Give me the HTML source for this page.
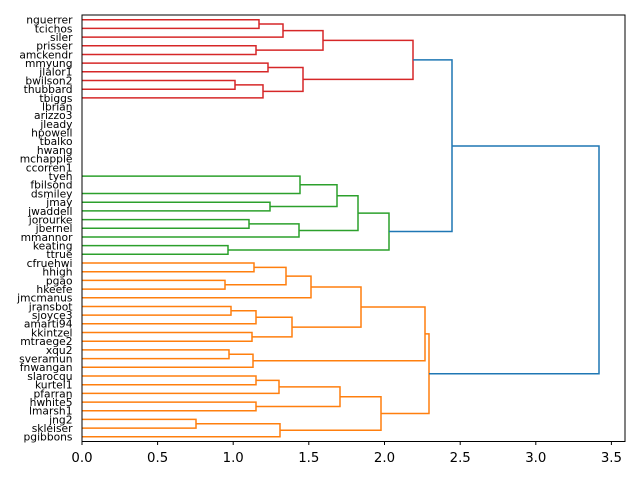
<!DOCTYPE html>
<html><head><meta charset="utf-8"><style>
html,body{margin:0;padding:0;background:#fff;}
svg{display:block;}
text{font-family:"DejaVu Sans","Liberation Sans",sans-serif;fill:#000;}
</style></head><body>
<svg width="640" height="480" viewBox="0 0 640 480" xmlns="http://www.w3.org/2000/svg">
<g fill="none" stroke-width="1.5">
<g stroke="#d62728">
<path d="M82 19.7H259V28.4H82"/>
<path d="M259 24.05H283V37.1H82"/>
<path d="M82 45.8H256V54.5H82"/>
<path d="M283 30.6H323V50.1H256"/>
<path d="M82 63.1H268V71.8H82"/>
<path d="M82 80.5H235V89.2H82"/>
<path d="M235 84.9H263V97.9H82"/>
<path d="M268 67.5H303V91.4H263"/>
<path d="M323 40.4H413V79.4H303"/>
</g>
<g stroke="#2ca02c">
<path d="M82 176.1H300V193.5H82"/>
<path d="M82 202.2H270V210.9H82"/>
<path d="M300 184.8H337V206.5H270"/>
<path d="M82 219.6H249V228.3H82"/>
<path d="M249 223.9H299V237H82"/>
<path d="M337 195.7H358V230.5H299"/>
<path d="M82 245.6H228V254.3H82"/>
<path d="M358 213.1H389V250H228"/>
</g>
<g stroke="#ff7f0e">
<path d="M82 263H254V271.7H82"/>
<path d="M82 280.4H225V289.1H82"/>
<path d="M254 267.4H286V284.8H225"/>
<path d="M286 276.1H311V297.8H82"/>
<path d="M82 306.5H231V315.1H82"/>
<path d="M231 310.8H256V323.8H82"/>
<path d="M82 332.5H252V341.2H82"/>
<path d="M256 317.3H292V336.9H252"/>
<path d="M311 287H361V327.1H292"/>
<path d="M82 349.9H229V358.6H82"/>
<path d="M229 354.3H253V367.3H82"/>
<path d="M361 307H425V360.8H253"/>
<path d="M82 376H256V384.7H82"/>
<path d="M256 380.4H279V393.4H82"/>
<path d="M82 402.1H256V410.8H82"/>
<path d="M279 386.9H340V406.5H256"/>
<path d="M82 419.4H196V428.1H82"/>
<path d="M196 423.8H280V436.8H82"/>
<path d="M340 396.7H381V430.3H280"/>
<path d="M425 333.9H429V413.5H381"/>
</g>
<g stroke="#1f77b4">
<path d="M413 59.9H452V231.5H389"/>
<path d="M452 146H599V373.7H429"/>
</g>
</g>
<rect x="82" y="15" width="543" height="426.5" fill="none" stroke="#000" stroke-width="1"/>
<g stroke="#000" stroke-width="1">
<path d="M82 441.5v3.5M157.6 441.5v3.5M233.2 441.5v3.5M308.8 441.5v3.5M384.5 441.5v3.5M460.2 441.5v3.5M535.8 441.5v3.5M611.4 441.5v3.5"/>
</g>
<g font-size="13.3" text-anchor="middle">
<text x="82" y="462">0.0</text><text x="157.6" y="462">0.5</text><text x="233.2" y="462">1.0</text><text x="308.8" y="462">1.5</text><text x="384.5" y="462">2.0</text><text x="460.2" y="462">2.5</text><text x="535.8" y="462">3.0</text><text x="611.4" y="462">3.5</text>
</g>
<g font-size="10.7" text-anchor="end">
<text x="72.5" y="23.6">nguerrer</text>
<text x="72.5" y="32.3">tcichos</text>
<text x="72.5" y="41">siler</text>
<text x="72.5" y="49.7">prisser</text>
<text x="72.5" y="58.4">amckendr</text>
<text x="72.5" y="67">mmyung</text>
<text x="72.5" y="75.7">jlalor1</text>
<text x="72.5" y="84.4">bwilson2</text>
<text x="72.5" y="93.1">thubbard</text>
<text x="72.5" y="101.8">tbiggs</text>
<text x="72.5" y="110.5">lbrian</text>
<text x="72.5" y="119.2">arizzo3</text>
<text x="72.5" y="127.9">jleady</text>
<text x="72.5" y="136.5">hpowell</text>
<text x="72.5" y="145.2">tbalko</text>
<text x="72.5" y="153.9">hwang</text>
<text x="72.5" y="162.6">mchapple</text>
<text x="72.5" y="171.3">ccorren1</text>
<text x="72.5" y="180">tyeh</text>
<text x="72.5" y="188.7">fbilsond</text>
<text x="72.5" y="197.4">dsmiley</text>
<text x="72.5" y="206.1">jmay</text>
<text x="72.5" y="214.8">jwaddell</text>
<text x="72.5" y="223.5">jorourke</text>
<text x="72.5" y="232.2">jbernel</text>
<text x="72.5" y="240.9">mmannor</text>
<text x="72.5" y="249.5">keating</text>
<text x="72.5" y="258.2">ttrue</text>
<text x="72.5" y="266.9">cfruehwi</text>
<text x="72.5" y="275.6">hhigh</text>
<text x="72.5" y="284.3">pgao</text>
<text x="72.5" y="293">hkeefe</text>
<text x="72.5" y="301.7">jmcmanus</text>
<text x="72.5" y="310.4">jransbot</text>
<text x="72.5" y="319">sjoyce3</text>
<text x="72.5" y="327.7">amarti94</text>
<text x="72.5" y="336.4">kkintzel</text>
<text x="72.5" y="345.1">mtraege2</text>
<text x="72.5" y="353.8">xqu2</text>
<text x="72.5" y="362.5">sveramun</text>
<text x="72.5" y="371.2">fnwangan</text>
<text x="72.5" y="379.9">slarocqu</text>
<text x="72.5" y="388.6">kurtel1</text>
<text x="72.5" y="397.3">pfarran</text>
<text x="72.5" y="406">hwhite5</text>
<text x="72.5" y="414.7">lmarsh1</text>
<text x="72.5" y="423.3">jng2</text>
<text x="72.5" y="432">skleiser</text>
<text x="72.5" y="440.7">pgibbons</text>
</g>
</svg>
</body></html>
